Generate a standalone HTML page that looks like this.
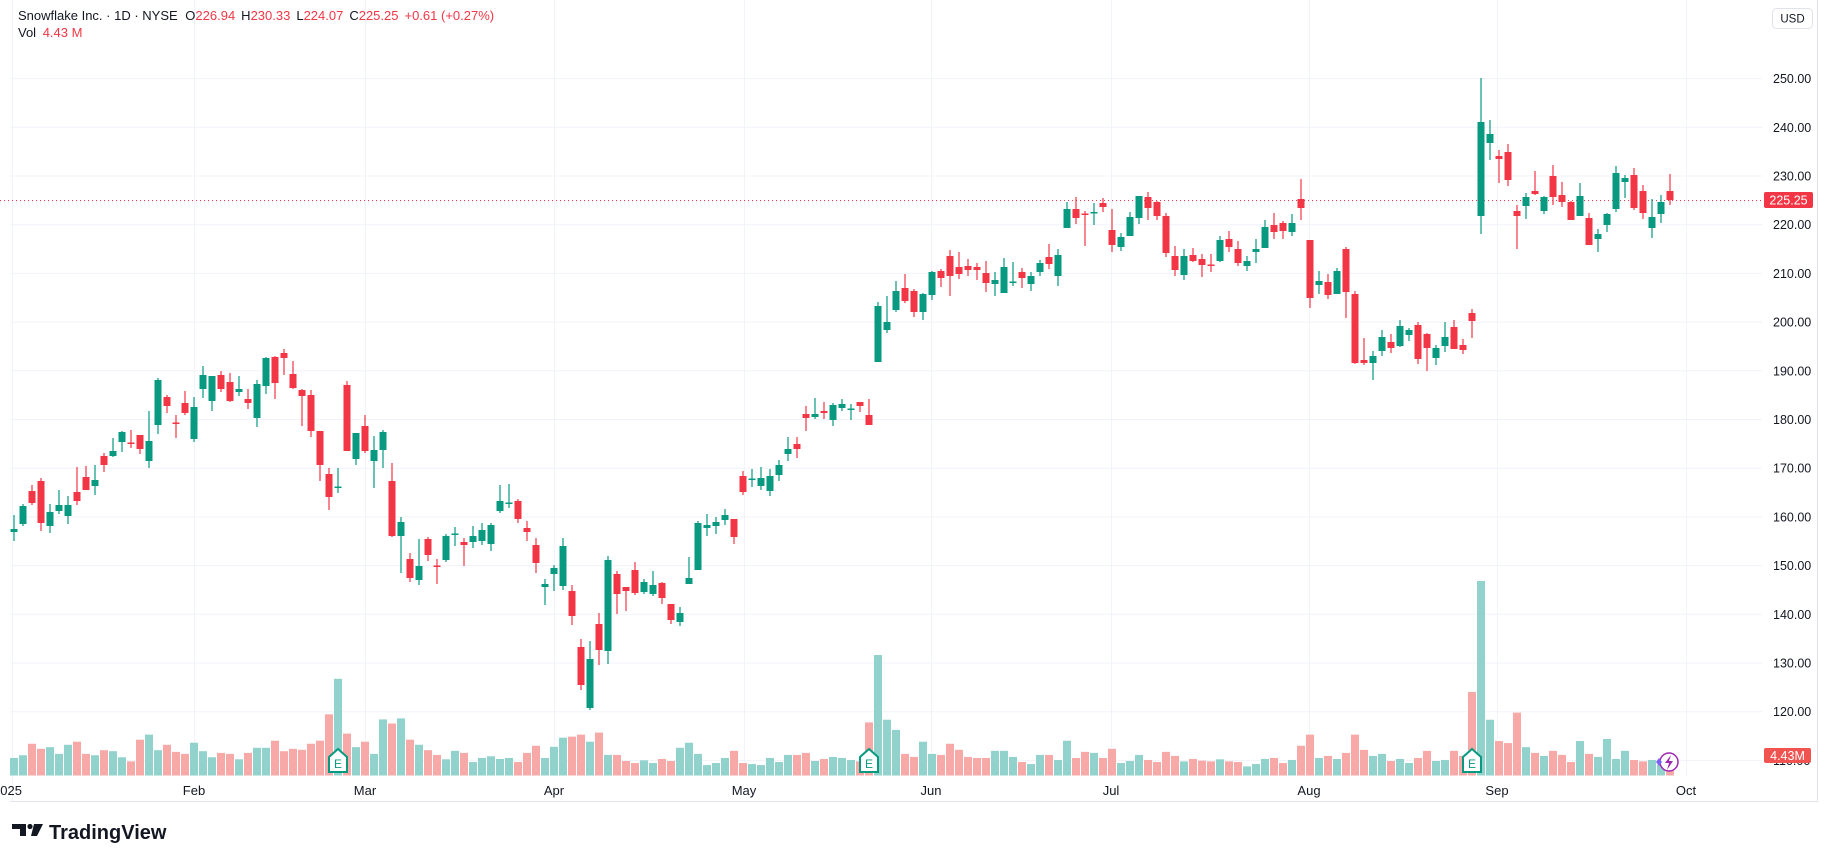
<!DOCTYPE html>
<html><head><meta charset="utf-8">
<style>
html,body{margin:0;padding:0;background:#fff;width:1827px;height:862px;overflow:hidden;font-family:"Liberation Sans",sans-serif}
svg{position:absolute;left:0;top:0}
</style></head>
<body>
<svg id="s" width="1827" height="862" xmlns="http://www.w3.org/2000/svg"></svg>
<script>
(function(){
var C=[
[529,532,515,541,1],[506,524,504,526,1],[491,503,485,505,0],[481,523,478,531,0],[512,526,504,533,1],[505,511,490,514,1],[505,516,496,524,1],[492,501,467,505,0],[477,490,466,490,0],[480,486,465,495,1],
[456,465,453,472,0],[451,456,438,457,1],[432,442,431,452,1],[442.5,443.5,430,448,0],[435,449,435,454,0],[441,461,411,468,1],[380,425,378,434,1],[397,406,395,413,0],[422.5,423.5,415,438,0],[403,413,391,415,0],
[407,439,397,442,1],[375,389,366,398,1],[376,401,376,411,1],[375,389,371,392,0],[382,401,373,402,0],[389,392,376,396,1],[399,403,389,409,0],[384,418,380,427,1],[358,386,357,394,1],[357,383,356,399,0],
[353,358,349,375,0],[374,388,361,389,0],[390,396,389,426,0],[395,431,390,437,0],[431,465,431,481,0],[474,497,468,510,0],[486.5,487.5,468,493,1],[385,451,381,451,0],[433,459,433,465,1],[426,451,415,453,0],
[450,461,436,488,1],[432,450,430,468,1],[481,536,463,537,0],[522,536,517,573,1],[559,578,553,582,0],[566,580,539,585,1],[539,555,537,561,0],[565.5,566.5,559,584,0],[536,560,534,562,1],[533.5,534.5,527,546,1],
[542,545,538,566,0],[536,542,526,548,1],[530,541,523,545,1],[525,544,523,551,1],[501,511,485,513,1],[502.5,503.5,484,508,1],[501,519,499,523,0],[528,532,521,541,0],[545,563,538,573,0],[584,587,579,605,1],
[568,574,565,591,1],[546,586,538,590,1],[591,616,585,625,0],[647,685,639,690,0],[659,708,641,710,1],[624,650,613,665,0],[560,651,556,664,1],[574,594,571,614,0],[587,591,587,611,0],[570,593,562,595,0],
[582,592,579,594,1],[585,594,571,596,1],[583,598,582,604,0],[604,620,604,624,0],[613,622,607,626,1],[578,584,557,584,1],[523,570,521,570,1],[525,528,514,536,1],[522,526,517,534,1],[515,520,509,525,1],
[519,537,519,544,0],[476,492,471,495,0],[478.5,479.5,469,487,1],[478,486,467,490,1],[476,491,469,496,1],[465,475,460,481,1],[449,454,437,461,1],[444,449,437,458,0],[414,418,406,431,0],[414,417,398,419,1],
[411,413,402,419,0],[405,420,403,426,1],[404,408,399,411,1],[408.5,409.5,404,420,1],[402,406,402,412,0],[415,425,399,425,0],[306,362,302,362,1],[322,330,296,333,1],[291,310,281,312,1],[288,301,274,303,0],
[291,312,289,317,0],[294,312,293,320,1],[272,295,271,300,1],[271,278,269,287,0],[256,276,250,296,0],[267,274,252,279,0],[266,270,259,276,0],[267,270,263,280,0],[273,283,261,292,0],[280,284,272,296,1],
[267,293,258,293,1],[281.5,282.5,262,286,1],[272,278,268,288,0],[276,284,272,291,1],[263,272,260,276,1],[257,264,244,269,0],[255,276,249,286,1],[209,228,202,228,1],[209,218,197,224,0],[213.5,214.5,211,246,0],
[212,213,203,225,1],[203,207,198,212,0],[230,245,209,252,0],[237,247,233,251,1],[217,236,212,236,1],[196,218,196,224,1],[197,208,192,220,0],[202,216,201,220,0],[216,253,213,257,0],[256,270,246,276,0],
[256,275,249,280,1],[255,261,248,262,0],[259,265,254,277,0],[264.5,265.5,254,272,0],[240,261,236,262,1],[239,247,231,252,0],[249,263,241,266,0],[261,266,256,271,1],[249,252,239,263,1],[227,248,220,248,1],
[225,232,213,239,0],[223,231,221,239,0],[223,232,214,236,1],[199,208,179,220,0],[240,298,240,308,0],[281,285,271,294,1],[282,295,274,299,0],[271,294,268,294,1],[249,292,247,318,0],[294,363,291,364,0],
[360,363,338,365,0],[356,363,351,380,1],[337,351,330,356,1],[342,348,334,353,0],[326,346,320,347,1],[330,335,328,341,1],[325,359,322,364,0],[334,348,333,371,0],[348,358,345,365,1],[337,346,322,352,1],
[327,349,320,349,0],[345,350,339,354,0],[313,321,309,338,0],[122,216,78,234,1],[134,143,120,160,1],[156,159,150,183,0],[152,180,144,186,0],[211,216,205,249,0],[197,206,193,219,1],[191,194,171,195,0],
[197,211,196,214,1],[176,197,165,205,0],[195,202,182,207,0],[202,220,201,220,0],[196,216,183,216,1],[218,245,213,245,0],[234,239,229,252,1],[214,225,213,232,1],[173,209,166,212,1],[178,182,175,198,1],
[175,208,168,210,0],[191,213,185,219,0],[217,228,199,238,1],[202,214,195,223,1],[191,200,174,205,0]
];
var VZ=[260,252,218,233,228,248,221,212,248,252,237,240,258,270,206,191,237,221,242,248,215,240,258,245,248,264,245,230,230,209,240,233,236,218,209,131,26,188,228,212,248,146,158,143,206,221,237,251,264,239,245,272,260,255,263,260,272,245,224,260,227,200,197,191,212,185,251,251,269,275,267,275,263,269,230,215,248,281,275,260,239,275,278,281,260,272,251,251,245,269,263,257,260,266,270,155,-460];
var VZ2=[147,177,248,257,212,248,251,218,236,257,260,260,239,239,257,272,278,251,251,266,209,260,242,245,260,233,275,269,251,266,272,242,254,270,263,268,270,264,270,272,285,278,263,260,275,266,224,191,260,254,263,245,191,236,254,248,269,263,275,260,239,269,266,239,254,65,-250,147,210,216,126,228,245,254,239,251,272,210,248,257,204,263,239,266,270,266,280,290];
var s=document.getElementById('s'),h='';
function X(k){return 14+9*k;}
function Y(p){return 78.6+(250-p)*4.87;}
var R=1762;
for(var p=250;p>=110;p-=10){var y=Y(p);h+='<line x1="10" x2="'+R+'" y1="'+y+'" y2="'+y+'" stroke="#f0f3fa" stroke-width="1"/>';}
var mx=[[194,'Feb'],[365,'Mar'],[554,'Apr'],[744,'May'],[931,'Jun'],[1111,'Jul'],[1309,'Aug'],[1497,'Sep'],[1686,'Oct']];
h+='<line x1="12.5" x2="12.5" y1="0" y2="801" stroke="#f0f3fa"/>';
mx.forEach(function(m){h+='<line x1="'+m[0]+'.5" x2="'+m[0]+'.5" y1="0" y2="776" stroke="#f0f3fa"/>';});
var vol=VZ.slice(0,97).concat(VZ2);
for(var k=0;k<C.length;k++){var z=vol[k];var vt;
 if(z===undefined||z<0)vt=760;else vt=670+z/2.956;
 if(k==96)vt=655; if(k==163)vt=581;
 var col=C[k][4]?'#92d2cc':'#f7a9a7';
 h+='<rect x="'+(X(k)-4)+'" y="'+vt+'" width="8" height="'+(775.5-vt)+'" fill="'+col+'"/>';}
h+='<line x1="0" x2="'+R+'" y1="200.5" y2="200.5" stroke="#f23645" stroke-width="1" stroke-dasharray="1,3"/>';
for(var k=0;k<C.length;k++){var c=C[k],x=X(k),col=c[4]?'#089981':'#f23645';
 h+='<line x1="'+x+'" x2="'+x+'" y1="'+c[2]+'" y2="'+c[3]+'" stroke="'+col+'" stroke-width="1.2"/>';
 var bh=Math.max(1.5,c[1]-c[0]);
 h+='<rect x="'+(x-3.5)+'" y="'+c[0]+'" width="7" height="'+bh+'" fill="'+col+'"/>';}
[338,869,1472].forEach(function(x){h+='<path d="M'+(x-9)+' 772 V757 L'+x+' 749 L'+(x+9)+' 757 V772 Z" fill="#fff" stroke="#089981" stroke-width="2"/><text x="'+x+'" y="768" font-size="12" text-anchor="middle" fill="#089981" font-family="Liberation Sans">E</text>';});
h+='<circle cx="1669" cy="762" r="9" fill="#fff" stroke="#9c27b0" stroke-width="1.5"/><path d="M1671 755 L1665 763 H1669 L1667 770 L1673 761 H1669 Z" fill="#9c27b0"/><path d="M1659 758 L1662 762 L1659 766 L1656 762 Z" fill="#7b61ff"/>';
for(var p=250;p>=110;p-=10){h+='<text x="1773" y="'+(Y(p)+4.5)+'" font-size="12.5" fill="#131722">'+p+'.00</text>';}
h+='<rect x="1764" y="192" width="49" height="16" rx="2" fill="#f23645"/><text x="1788.5" y="204.5" font-size="12.5" fill="#fff" text-anchor="middle">225.25</text>';
h+='<rect x="1764" y="748" width="47" height="15" rx="2" fill="#f05350"/><text x="1787.5" y="760" font-size="12.5" fill="#fff" text-anchor="middle">4.43M</text>';
h+='<rect x="1772.5" y="8.5" width="40" height="20" rx="4" fill="#fff" stroke="#e0e3eb"/><text x="1792.5" y="22.5" font-size="11.5" fill="#131722" text-anchor="middle">USD</text>';
h+='<line x1="1817.5" x2="1817.5" y1="0" y2="801" stroke="#e0e3eb"/><line x1="10" x2="1818" y1="801.5" y2="801.5" stroke="#e0e3eb"/>';
h+='<text x="-7" y="795" font-size="13" fill="#131722">2025</text>';
mx.forEach(function(m){h+='<text x="'+m[0]+'" y="795" font-size="13" fill="#131722" text-anchor="middle">'+m[1]+'</text>';});
h+='<text x="18" y="20" font-size="13" fill="#131722">Snowflake Inc. · 1D · NYSE <tspan dx="4">O</tspan><tspan fill="#f23645">226.94</tspan><tspan dx="6">H</tspan><tspan fill="#f23645">230.33</tspan><tspan dx="6">L</tspan><tspan fill="#f23645">224.07</tspan><tspan dx="6">C</tspan><tspan fill="#f23645">225.25</tspan><tspan dx="6" fill="#f23645">+0.61 (+0.27%)</tspan></text>';
h+='<text x="18" y="37" font-size="13" fill="#131722">Vol <tspan dx="3" fill="#f23645">4.43 M</tspan></text>';
h+='<path d="M12 824 H26 V836 H20 V829 H12 Z" fill="#131722"/><circle cx="30" cy="826.5" r="2.6" fill="#131722"/><path d="M34 824 H43 L37 836 H31 Z" fill="#131722"/>';
h+='<text x="49" y="839" font-size="20" font-weight="bold" fill="#131722">TradingView</text>';
s.innerHTML=h;
})();
</script>
</body></html>
